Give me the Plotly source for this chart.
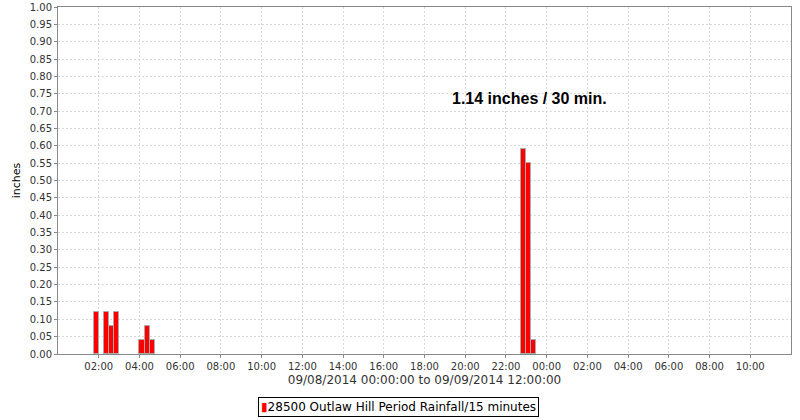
import plotly.graph_objects as go

# Data: 15-minute rainfall bins (bin centers) and values in inches
bin_times = [
    "2014-09-08 01:52:30", "2014-09-08 02:22:30", "2014-09-08 02:37:30", "2014-09-08 02:52:30",
    "2014-09-08 04:07:30", "2014-09-08 04:22:30", "2014-09-08 04:37:30",
    "2014-09-08 22:52:30", "2014-09-08 23:07:30", "2014-09-08 23:22:30",
]
rain_in = [0.12, 0.12, 0.08, 0.12, 0.04, 0.08, 0.04, 0.59, 0.55, 0.04]
series_name = "28500 Outlaw Hill Period Rainfall/15 minutes"

tick_vals = [
    "2014-09-08 02:00", "2014-09-08 04:00", "2014-09-08 06:00", "2014-09-08 08:00",
    "2014-09-08 10:00", "2014-09-08 12:00", "2014-09-08 14:00", "2014-09-08 16:00",
    "2014-09-08 18:00", "2014-09-08 20:00", "2014-09-08 22:00", "2014-09-09 00:00",
    "2014-09-09 02:00", "2014-09-09 04:00", "2014-09-09 06:00", "2014-09-09 08:00",
    "2014-09-09 10:00",
]
tick_text = [t[-5:] for t in tick_vals]
y_ticks = [round(i * 0.05, 2) for i in range(21)]

fig = go.Figure()
fig.add_trace(go.Bar(
    x=bin_times, y=rain_in, width=[15 * 60 * 1000] * len(rain_in),
    marker=dict(color="#ff0000", line=dict(color="#aaaaaa", width=1)),
    name=series_name, showlegend=False,
))

fig.add_annotation(
    x="2014-09-08 23:10", y=0.735, xref="x", yref="y",
    text="<b>1.14 inches / 30 min.</b>", showarrow=False,
    font=dict(family="Liberation Sans, Arial", size=16, color="#000000"),
)

# legend box drawn as bordered annotation
fig.add_annotation(
    x=0.464, y=-0.153, xref="paper", yref="paper", xanchor="center", yanchor="middle",
    text="<span style='color:#ff0000'>▮</span>" + series_name, showarrow=False,
    font=dict(family="DejaVu Sans", size=12, color="#000000"),
    bordercolor="#000000", borderwidth=1, borderpad=2, bgcolor="#ffffff",
)

axis_font = dict(family="DejaVu Sans", size=10, color="#333333")
fig.update_layout(
    width=800, height=420,
    margin=dict(l=58, r=9, t=7, b=66),
    paper_bgcolor="#ffffff", plot_bgcolor="#ffffff",
    font=dict(family="DejaVu Sans", size=11, color="#000000"),
    bargap=0,
    showlegend=False,
    xaxis=dict(
        type="date", range=["2014-09-08 00:00", "2014-09-09 12:00"], automargin=False,
        tickvals=tick_vals, ticktext=tick_text, tickfont=axis_font,
        ticks="outside", ticklen=3, tickcolor="#888888",
        showgrid=True, gridcolor="#d8d8d8", griddash="2px,2px", gridwidth=1,
        showline=True, linecolor="#888888", mirror=True, zeroline=False,
        title=dict(text="09/08/2014 00:00:00 to 09/09/2014 12:00:00",
                   font=dict(family="DejaVu Sans", size=12, color="#333333"), standoff=4),
    ),
    yaxis=dict(
        range=[0, 1.0], tickvals=y_ticks, tickformat=".2f", tickfont=axis_font, automargin=False,
        ticks="outside", ticklen=3, tickcolor="#888888",
        showgrid=True, gridcolor="#d8d8d8", griddash="2px,2px", gridwidth=1,
        showline=True, linecolor="#888888", mirror=True, zeroline=False,
        title=dict(text="inches", font=dict(family="DejaVu Sans", size=11, color="#000000"), standoff=6),
    ),
)

fig.write_html("out.html", config={"displayModeBar": False},
               post_script="document.body.style.margin='0';document.body.style.overflow='hidden';")
